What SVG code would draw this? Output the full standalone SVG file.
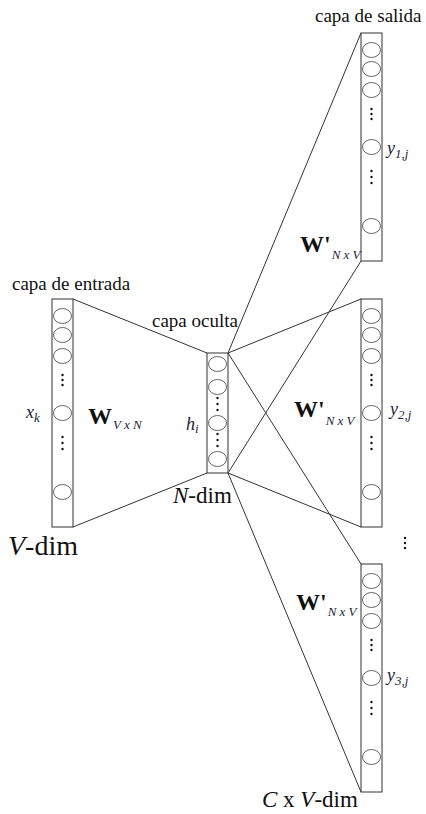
<svg xmlns="http://www.w3.org/2000/svg" xmlns:xlink="http://www.w3.org/1999/xlink" width="426" height="814" viewBox="0 0 426 814" font-family="'Liberation Serif', 'Times New Roman', serif">
<style>
.box{fill:#fff;stroke:#333;stroke-width:1}
.cell{fill:#fff;stroke:#555;stroke-width:0.9}
.dot{fill:#111}
.conn{stroke:#333;stroke-width:1;fill:none}
text{font-family:"Liberation Serif","Times New Roman",serif;fill:#111}
.lbl{font-size:19px}
.it{font-style:italic}
.bw{font-weight:bold;font-size:24px}
.sub{font-style:italic;font-weight:normal;font-size:13px;fill:#1c1c3a}
.dim{font-size:23px}
.var{font-style:italic;font-size:18px;fill:#1c1c3a}
</style>
<defs>
<g id="layer">
<rect class="box" x="0" y="0" width="21" height="228"/>
<ellipse class="cell" cx="10.5" cy="17" rx="9" ry="7.5"/>
<ellipse class="cell" cx="10.5" cy="36" rx="9" ry="7.5"/>
<ellipse class="cell" cx="10.5" cy="57" rx="9" ry="7.5"/>
<circle class="dot" cx="10.5" cy="76" r="1.2"/>
<circle class="dot" cx="10.5" cy="81" r="1.2"/>
<circle class="dot" cx="10.5" cy="86" r="1.2"/>
<ellipse class="cell" cx="10.5" cy="114" rx="9" ry="7.5"/>
<circle class="dot" cx="10.5" cy="138" r="1.2"/>
<circle class="dot" cx="10.5" cy="144" r="1.2"/>
<circle class="dot" cx="10.5" cy="150" r="1.2"/>
<ellipse class="cell" cx="10.5" cy="193" rx="9" ry="7.5"/>
</g>
</defs>

<g id="connectors">
<line class="conn" x1="73" y1="299" x2="207" y2="353"/>
<line class="conn" x1="73" y1="527" x2="207" y2="473"/>
<line class="conn" x1="228" y1="353" x2="361" y2="33"/>
<line class="conn" x1="228" y1="473" x2="361" y2="261"/>
<line class="conn" x1="228" y1="353" x2="361" y2="299"/>
<line class="conn" x1="228" y1="473" x2="361" y2="527"/>
<line class="conn" x1="228" y1="353" x2="361" y2="564"/>
<line class="conn" x1="228" y1="473" x2="361" y2="792"/>
</g>

<g id="input-layer">
<use xlink:href="#layer" x="52" y="299"/>
<text class="lbl" x="12" y="290">capa de entrada</text>
<text class="var" x="26" y="418">x<tspan class="sub" dy="4">k</tspan></text>
<text class="dim" x="8" y="555" style="font-size:28px"><tspan class="it">V</tspan>-dim</text>
</g>

<g id="weights-in">
<text class="bw" x="88" y="424">W<tspan class="sub" dy="5" dx="1">V x N</tspan></text>
</g>

<g id="hidden-layer">
<rect class="box" x="207" y="353" width="21" height="120"/>
<ellipse class="cell" cx="217.5" cy="364" rx="9" ry="7.5"/>
<ellipse class="cell" cx="217.5" cy="387" rx="9" ry="7.5"/>
<circle class="dot" cx="217.5" cy="398" r="1.2"/>
<circle class="dot" cx="217.5" cy="404" r="1.2"/>
<circle class="dot" cx="217.5" cy="410" r="1.2"/>
<ellipse class="cell" cx="217.5" cy="423" rx="9" ry="7.5"/>
<circle class="dot" cx="217.5" cy="434" r="1.2"/>
<circle class="dot" cx="217.5" cy="440" r="1.2"/>
<circle class="dot" cx="217.5" cy="446" r="1.2"/>
<ellipse class="cell" cx="217.5" cy="459" rx="9" ry="7.5"/>
<text class="lbl" x="152" y="327">capa oculta</text>
<text class="var" x="186" y="430">h<tspan class="sub" dy="3">i</tspan></text>
<text class="dim" x="173" y="503"><tspan class="it">N</tspan>-dim</text>
</g>

<g id="output-layer-1">
<use xlink:href="#layer" x="361" y="33"/>
<text class="lbl" x="315" y="22">capa de salida</text>
<text class="var" x="387" y="154">y<tspan class="sub" dy="4">1,j</tspan></text>
<text class="bw" x="300" y="252">W'<tspan class="sub" dy="7" dx="1">N x V</tspan></text>
</g>

<g id="output-layer-2">
<use xlink:href="#layer" x="361" y="299"/>
<text class="var" x="390" y="415">y<tspan class="sub" dy="4">2,j</tspan></text>
<text class="bw" x="294" y="417">W'<tspan class="sub" dy="8" dx="1">N x V</tspan></text>
</g>

<g id="ellipsis">
<circle class="dot" cx="405" cy="538" r="1.2"/>
<circle class="dot" cx="405" cy="543" r="1.2"/>
<circle class="dot" cx="405" cy="548" r="1.2"/>
</g>

<g id="output-layer-3">
<use xlink:href="#layer" x="361" y="564"/>
<text class="var" x="387" y="681">y<tspan class="sub" dy="4">3,j</tspan></text>
<text class="bw" x="296" y="610">W'<tspan class="sub" dy="6" dx="1">N x V</tspan></text>
<text class="dim" x="262" y="807"><tspan class="it">C</tspan> x <tspan class="it">V</tspan>-dim</text>
</g>
</svg>
